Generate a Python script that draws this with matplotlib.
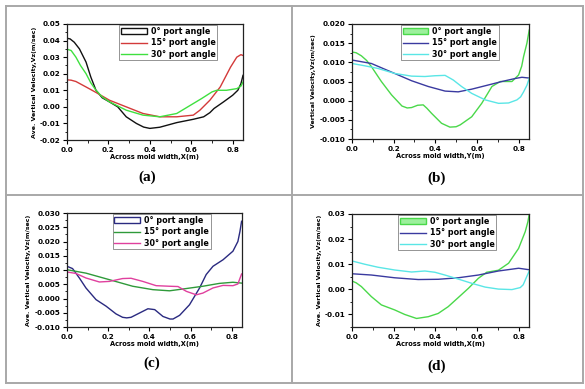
import numpy as np
import matplotlib
matplotlib.use('Agg')
import matplotlib.pyplot as plt
from matplotlib.patches import Patch
from matplotlib.lines import Line2D
from matplotlib.ticker import MultipleLocator

W, H = 585, 389

# ---- panel (a) ----
a_x0 = [0.0, 0.015, 0.035, 0.06, 0.092, 0.115, 0.14, 0.17, 0.205, 0.245, 0.286, 0.335, 0.37, 0.4, 0.448, 0.53, 0.61, 0.66, 0.69, 0.71, 0.756, 0.8, 0.825, 0.84, 0.85]
a_y0 = [0.0414, 0.041, 0.039, 0.035, 0.027, 0.018, 0.010, 0.0055, 0.003, 0.0, -0.006, -0.010, -0.0122, -0.013, -0.0123, -0.0095, -0.0075, -0.006, -0.0035, -0.001, 0.003, 0.007, 0.010, 0.014, 0.019]
a_x15 = [0.0, 0.02, 0.043, 0.092, 0.14, 0.205, 0.286, 0.367, 0.448, 0.53, 0.61, 0.642, 0.69, 0.74, 0.79, 0.82, 0.84, 0.85]
a_y15 = [0.0163, 0.0161, 0.0153, 0.012, 0.0087, 0.004, 0.0, -0.004, -0.006, -0.006, -0.005, -0.002, 0.004, 0.012, 0.024, 0.030, 0.0315, 0.031]
a_x30 = [0.0, 0.02, 0.043, 0.065, 0.092, 0.115, 0.14, 0.17, 0.205, 0.286, 0.367, 0.448, 0.53, 0.61, 0.65, 0.675, 0.7, 0.723, 0.77, 0.82, 0.84, 0.85]
a_y30 = [0.0348, 0.034, 0.030, 0.025, 0.020, 0.0145, 0.010, 0.006, 0.003, -0.002, -0.005, -0.006, -0.004, 0.002, 0.005, 0.007, 0.009, 0.010, 0.010, 0.011, 0.0125, 0.015]

# ---- panel (b) ----
b_x0 = [0.0, 0.02, 0.045, 0.07, 0.093, 0.141, 0.19, 0.24, 0.265, 0.286, 0.315, 0.342, 0.36, 0.382, 0.43, 0.47, 0.5, 0.52, 0.575, 0.623, 0.672, 0.712, 0.768, 0.8, 0.815, 0.824, 0.84, 0.851]
b_y0 = [0.0127, 0.0125, 0.0117, 0.0105, 0.0089, 0.005, 0.0015, -0.0014, -0.0019, -0.0018, -0.0012, -0.0011, -0.002, -0.0033, -0.0059, -0.0069, -0.0068, -0.0063, -0.0042, -0.0007, 0.0037, 0.005, 0.005, 0.0067, 0.009, 0.0115, 0.015, 0.0184]
b_x15 = [0.0, 0.093, 0.205, 0.286, 0.366, 0.447, 0.51, 0.575, 0.655, 0.72, 0.785, 0.816, 0.851]
b_y15 = [0.0106, 0.0097, 0.0071, 0.0052, 0.0037, 0.0025, 0.0023, 0.003, 0.0041, 0.005, 0.0058, 0.0061, 0.0059]
b_x30 = [0.0, 0.061, 0.125, 0.205, 0.286, 0.35, 0.398, 0.447, 0.486, 0.526, 0.575, 0.64, 0.704, 0.752, 0.792, 0.81, 0.824, 0.84, 0.851]
b_y30 = [0.0097, 0.0091, 0.0084, 0.0071, 0.0064, 0.0063, 0.0065, 0.0066, 0.0054, 0.0037, 0.0019, 0.0002, -0.0007, -0.0006, 0.0002, 0.001, 0.0023, 0.004, 0.0058]

# ---- panel (c) ----
c_x0 = [0.0, 0.027, 0.06, 0.092, 0.141, 0.19, 0.238, 0.27, 0.29, 0.311, 0.352, 0.393, 0.426, 0.466, 0.5, 0.515, 0.547, 0.595, 0.644, 0.676, 0.709, 0.758, 0.806, 0.83, 0.84, 0.848]
c_y0 = [0.0113, 0.0105, 0.0072, 0.0037, -0.0004, -0.0027, -0.0054, -0.0066, -0.0068, -0.0066, -0.0051, -0.0036, -0.0039, -0.0063, -0.0072, -0.0072, -0.0059, -0.0022, 0.0037, 0.0084, 0.0113, 0.0136, 0.0166, 0.020, 0.0235, 0.0271]
c_x15 = [0.0, 0.092, 0.206, 0.319, 0.417, 0.498, 0.58, 0.66, 0.74, 0.806, 0.848]
c_y15 = [0.0101, 0.0089, 0.0066, 0.0043, 0.0031, 0.0027, 0.0035, 0.0043, 0.0053, 0.0057, 0.0054]
c_x30 = [0.0, 0.043, 0.092, 0.157, 0.206, 0.27, 0.311, 0.368, 0.433, 0.498, 0.539, 0.58, 0.628, 0.66, 0.709, 0.758, 0.806, 0.83, 0.848]
c_y30 = [0.0093, 0.0088, 0.0072, 0.0058, 0.006, 0.007, 0.0071, 0.006, 0.0045, 0.0043, 0.0042, 0.0025, 0.0013, 0.0019, 0.0037, 0.0046, 0.0045, 0.0051, 0.0086]

# ---- panel (d) ----
d_x0 = [0.0, 0.02, 0.045, 0.093, 0.141, 0.205, 0.253, 0.31, 0.366, 0.414, 0.462, 0.51, 0.559, 0.607, 0.647, 0.703, 0.752, 0.8, 0.832, 0.845, 0.851]
d_y0 = [0.0033, 0.0026, 0.0011, -0.0029, -0.0062, -0.0082, -0.010, -0.0116, -0.0109, -0.0096, -0.0069, -0.0033, 0.0004, 0.0044, 0.0068, 0.0076, 0.0104, 0.0163, 0.023, 0.027, 0.0299]
d_x15 = [0.0, 0.093, 0.205, 0.318, 0.414, 0.51, 0.607, 0.703, 0.8, 0.851]
d_y15 = [0.0062, 0.0057, 0.0046, 0.0039, 0.004, 0.0046, 0.0057, 0.0073, 0.0084, 0.0078]
d_x30 = [0.0, 0.061, 0.125, 0.205, 0.286, 0.35, 0.398, 0.446, 0.51, 0.575, 0.639, 0.703, 0.768, 0.808, 0.822, 0.832, 0.851]
d_y30 = [0.0113, 0.010, 0.0088, 0.0077, 0.0069, 0.0073, 0.0068, 0.0057, 0.0041, 0.0024, 0.0009, 0.0001, -0.0001, 0.0007, 0.0018, 0.0037, 0.0073]

labels = ['0° port angle', '15° port angle', '30° port angle']

panels = [
    dict(box=(67, 243, 24, 140), series=[(a_x0, a_y0), (a_x15, a_y15), (a_x30, a_y30)],
         colors=['#111111', '#d33a3a', '#3fe03f'], fill0='white',
         ylim=(-0.02, 0.05), ymaj=0.01, yfmt='{:.2f}', ylabel='Ave. Vertical Velocity,Vz(m/sec)',
         xlabel='Across mold width,X(m)', tag='(a)', tagpos=(147, 177), leg=0.29),
    dict(box=(352, 529, 24, 139), series=[(b_x0, b_y0), (b_x15, b_y15), (b_x30, b_y30)],
         colors=['#4ad84a', '#3a3aa0', '#5ae6e6'], fill0='#9cf09c',
         ylim=(-0.01, 0.02), ymaj=0.005, yfmt='{:.3f}', ylabel='Vertical Velocity,Vz(m/sec)',
         xlabel='Across mold width,Y(m)', tag='(b)', tagpos=(437, 178), leg=0.27),
    dict(box=(67, 242, 213, 327), series=[(c_x0, c_y0), (c_x15, c_y15), (c_x30, c_y30)],
         colors=['#2a2a80', '#2f9a3a', '#e0409e'], fill0='white',
         ylim=(-0.01, 0.03), ymaj=0.005, yfmt='{:.3f}', ylabel='Ave. Vertical Velocity,Vz(m/sec)',
         xlabel='Across mold width,X(m)', tag='(c)', tagpos=(152, 363), leg=0.255),
    dict(box=(352, 529, 214, 327), series=[(d_x0, d_y0), (d_x15, d_y15), (d_x30, d_y30)],
         colors=['#4ad84a', '#3a3aa0', '#5ae6e6'], fill0='#9cf09c',
         ylim=(-0.015, 0.03), ymaj=0.01, yfmt='{:.2f}', ylabel='Ave. Vertical Velocity,Vz(m/sec)',
         xlabel='Across mold width,X(m)', tag='(d)', tagpos=(437, 366), leg=0.255),
]

fig = plt.figure(figsize=(W / 100, H / 100), dpi=100)
fig.patch.set_facecolor('white')

# table grid lines
grid_c = '#a8a8a8'
for (x1, y1, x2, y2) in [(6, 6, 583, 6), (6, 383, 583, 383), (6, 6, 6, 383), (583, 6, 583, 383),
                         (292, 6, 292, 383), (6, 195, 583, 195)]:
    fig.add_artist(Line2D([x1 / W, x2 / W], [1 - y1 / H, 1 - y2 / H], color=grid_c, lw=1.4,
                          transform=fig.transFigure))

for p in panels:
    l, r, t, b = p['box']
    ax = fig.add_axes([l / W, 1 - b / H, (r - l) / W, (b - t) / H])
    for (xs, ys), c in zip(p['series'], p['colors']):
        ax.plot(xs, ys, color=c, lw=1.0)
    ax.set_xlim(0, 0.85)
    ax.set_ylim(*p['ylim'])
    ax.xaxis.set_major_locator(MultipleLocator(0.2))
    ax.xaxis.set_minor_locator(MultipleLocator(0.1))
    ax.yaxis.set_major_locator(MultipleLocator(p['ymaj']))
    ax.yaxis.set_minor_locator(MultipleLocator(p['ymaj'] / 2))
    ax.xaxis.set_major_formatter(plt.FuncFormatter(lambda v, _: f'{v:.1f}'))
    fmt = p['yfmt']
    ax.yaxis.set_major_formatter(plt.FuncFormatter(lambda v, _, f=fmt: f.format(v)))
    ax.tick_params(which='major', direction='out', length=3, width=0.8, labelsize=5.2, pad=2)
    ax.tick_params(which='minor', direction='out', length=1.8, width=0.6)
    ax.tick_params(top=False, right=False, which='both')
    for lab in ax.get_xticklabels() + ax.get_yticklabels():
        lab.set_fontweight('bold')
    for s in ax.spines.values():
        s.set_linewidth(0.9)
        s.set_color('#222222')
    ax.set_xlabel(p['xlabel'], fontsize=4.8, fontweight='bold', labelpad=1)
    ax.set_ylabel(p['ylabel'], fontsize=4.5, fontweight='bold', labelpad=2)

    handles = [Patch(facecolor=p['fill0'], edgecolor=p['colors'][0], lw=1.0),
               Line2D([], [], color=p['colors'][1], lw=1.0),
               Line2D([], [], color=p['colors'][2], lw=1.0)]
    leg = ax.legend(handles, labels, loc='upper left', bbox_to_anchor=(p['leg'], 1.0),
                    prop={'size': 5.8, 'weight': 'bold'}, frameon=True, fancybox=False,
                    edgecolor='#444444', borderpad=0.2, labelspacing=0.3,
                    handlelength=3.2, handleheight=0.6, handletextpad=0.5, borderaxespad=0.15)
    leg.get_frame().set_linewidth(0.5)

    fig.text(p['tagpos'][0] / W, 1 - p['tagpos'][1] / H, p['tag'], fontsize=11,
             fontweight='bold', family='Liberation Serif', ha='center', va='center')

fig.savefig('out.png', dpi=100, facecolor='white')
